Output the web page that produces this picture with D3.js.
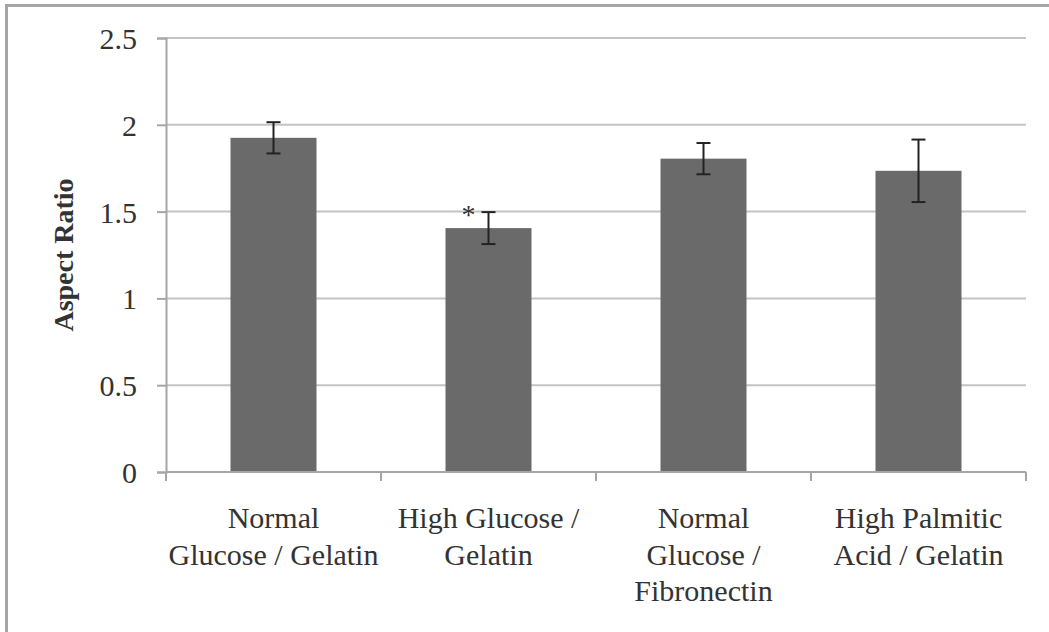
<!DOCTYPE html>
<html>
<head>
<meta charset="utf-8">
<script src="https://cdn.jsdelivr.net/npm/d3@7"></script>
<style>
  html, body { margin: 0; padding: 0; background: #fff; }
  svg { display: block; }
  text { font-family: "Liberation Serif", "Times New Roman", serif; fill: #333; }
</style>
</head>
<body>
<svg id="chart" width="1049" height="632"></svg>
<script>
// Data
const categories = ["Normal\nGlucose / Gelatin", "High Glucose /\nGelatin", "Normal\nGlucose /\nFibronectin", "High Palmitic\nAcid / Gelatin"];
const values = [1.925, 1.405, 1.805, 1.735];
const errors = [0.09, 0.092, 0.09, 0.18];
const significance = ["", "*", "", ""];
const yTicks = [0, 0.5, 1, 1.5, 2, 2.5];
const yTickLabels = ["0", "0.5", "1", "1.5", "2", "2.5"];
const yTitle = "Aspect Ratio";

(function () {
const svg = d3.select("#chart");
const W = 1049, H = 632;
const mLeft = 166, mRight = 1026, mTop = 38, mBottom = 472;

// outer frame (clipped on right/bottom like reference)
svg.append("rect")
  .attr("x", 6.5).attr("y", 5.5)
  .attr("width", W + 20).attr("height", H + 20)
  .attr("fill", "none").attr("stroke", "#a6a6a6").attr("stroke-width", 3);

const y = d3.scaleLinear().domain([0, 2.5]).range([mBottom, mTop]);
const x = d3.scaleBand().domain(categories).range([mLeft, mRight])
  .paddingInner(0.6).paddingOuter(0.3);
const xEdges = d3.scaleBand().domain(categories).range([mLeft, mRight]).padding(0);

// gridlines
svg.append("g").selectAll("line").data(yTicks.filter(d => d > 0)).join("line")
  .attr("x1", mLeft).attr("x2", mRight)
  .attr("y1", d => y(d)).attr("y2", d => y(d))
  .attr("stroke", "#c4c4c4").attr("stroke-width", 2);

// y axis
const yAxis = d3.axisLeft(y).tickValues(yTicks)
  .tickFormat((d, i) => yTickLabels[i]).tickSize(9).tickPadding(20);
const gy = svg.append("g").attr("transform", `translate(${mLeft},0)`).call(yAxis);
gy.select(".domain").attr("stroke", "#a6a6a6").attr("stroke-width", 2);
gy.selectAll(".tick line").attr("stroke", "#a6a6a6").attr("stroke-width", 2);
gy.selectAll(".tick text")
  .style("font-family", '"Liberation Serif", serif')
  .style("font-size", "30px").attr("fill", "#333").attr("dy", "0.35em");

// bars
svg.append("g").selectAll("rect").data(values).join("rect")
  .attr("x", (d, i) => x(categories[i]))
  .attr("width", x.bandwidth())
  .attr("y", d => y(d))
  .attr("height", d => y(0) - y(d))
  .attr("fill", "#6a6a6a");

// x axis
svg.append("line")
  .attr("x1", mLeft).attr("x2", mRight).attr("y1", mBottom).attr("y2", mBottom)
  .attr("stroke", "#a6a6a6").attr("stroke-width", 2);
const edges = categories.map(c => xEdges(c)).concat([mRight]);
svg.append("g").selectAll("line").data(edges).join("line")
  .attr("x1", d => d).attr("x2", d => d)
  .attr("y1", mBottom).attr("y2", mBottom + 9)
  .attr("stroke", "#a6a6a6").attr("stroke-width", 2);

// error bars
const eg = svg.append("g").attr("stroke", "#222").attr("stroke-width", 2);
values.forEach((v, i) => {
  const cx = x(categories[i]) + x.bandwidth() / 2;
  eg.append("line").attr("x1", cx).attr("x2", cx)
    .attr("y1", y(v - errors[i])).attr("y2", y(v + errors[i]));
  [v - errors[i], v + errors[i]].forEach(e => {
    eg.append("line").attr("x1", cx - 7).attr("x2", cx + 7)
      .attr("y1", y(e)).attr("y2", y(e));
  });
});

// significance markers
svg.append("g").selectAll("text").data(significance).join("text")
  .attr("x", (d, i) => x(categories[i]) + x.bandwidth() / 2 - 20)
  .attr("y", (d, i) => y(values[i] + errors[i]) + 12)
  .attr("text-anchor", "middle")
  .style("font-size", "28px")
  .text(d => d);

// category labels
const lg = svg.append("g");
categories.forEach(c => {
  const cx = xEdges(c) + xEdges.bandwidth() / 2;
  const t = lg.append("text").attr("text-anchor", "middle").style("font-size", "30px");
  c.split("\n").forEach((line, j) => {
    t.append("tspan").attr("x", cx).attr("y", 528 + j * 36.5).text(line);
  });
});

// y title
svg.append("text")
  .attr("transform", `translate(73, ${(mTop + mBottom) / 2}) rotate(-90)`)
  .attr("text-anchor", "middle")
  .style("font-size", "28px").style("font-weight", "bold")
  .text(yTitle);
})();
</script>
</body>
</html>
